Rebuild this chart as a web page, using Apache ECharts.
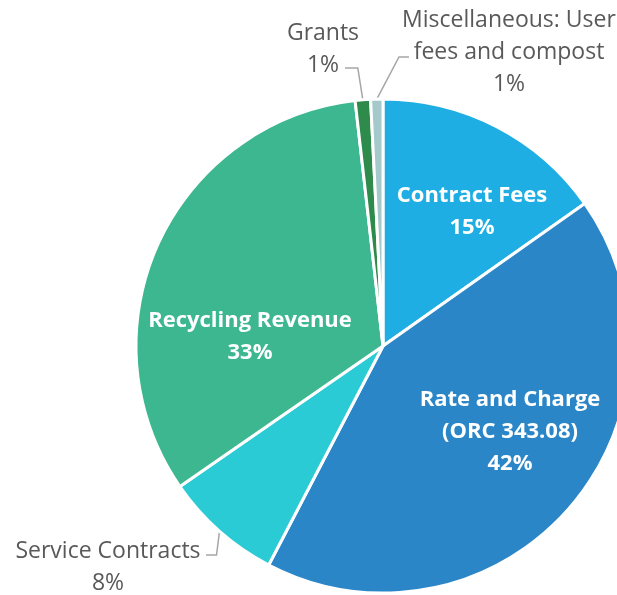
<!DOCTYPE html>
<html>
<head>
<meta charset="utf-8">
<style>
  * { margin: 0; padding: 0; }
  html, body { background: #fff; }
  #chart { width: 617px; height: 595px; }
</style>
</head>
<body>
<div id="chart"></div>
<script src="https://cdn.jsdelivr.net/npm/echarts@6/dist/echarts.min.js"></script>
<script>
// slices, clockwise from 12 o'clock
var names = [
  'Contract Fees',
  'Rate and Charge\n(ORC 343.08)',
  'Service Contracts',
  'Recycling Revenue',
  'Grants',
  'Miscellaneous: User\nfees and compost'
];
var values = [15.2, 42.4, 7.7, 32.8, 1.0, 0.8];
var colors = ['#1EAEE4', '#2B86C8', '#2BCBD5', '#3DB78F', '#2E8B4B', '#A3C9CB'];
var outside = [false, false, true, false, true, true];

// where each label sits (centre of the text block)
var labelPos = [
  [472, 212],
  [510, 432],
  [108, 567],
  [250, 337],
  [323, 49],
  [509, 52]
];

var chart = echarts.init(document.getElementById('chart'), null, { renderer: 'canvas' });

var data = names.map(function (n, i) {
  var item = {
    name: n,
    value: values[i],
    itemStyle: { color: colors[i] }
  };
  if (outside[i]) {
    item.label = {
      position: 'outside',
      color: '#595959',
      fontWeight: 'normal',
      fontSize: 23,
      lineHeight: 32
    };
    item.labelLine = { show: true };
  }
  return item;
});

// elbow leader lines: start on the slice edge, bend, then run to the text
function leader(p, pos) {
  var pts = p.labelLinePoints;
  if (!pts || !pts.length) return undefined;
  var s = pts[0];
  var i = p.dataIndex;
  if (i === 4) { // Grants: up, then left to the "1%"
    var y = pos[1] + 19;
    return [s, [s[0] - 5, y], [pos[0] + 22, y]];
  }
  if (i === 5) { // Misc: up-right, then to "fees"
    var y2 = pos[1] + 5;
    return [s, [pos[0] - 110, y2], [pos[0] - 100, y2]];
  }
  if (i === 2) { // Service Contracts: down, then left
    var y3 = pos[1] - 12;
    return [s, [s[0] - 3, y3], [pos[0] + 98, y3]];
  }
  return pts;
}

var option = {
  animation: false,
  backgroundColor: '#fff',
  series: [{
    type: 'pie',
    center: [383, 346],
    radius: [0, 247],
    startAngle: 90,
    clockwise: true,
    avoidLabelOverlap: false,
    itemStyle: { borderColor: '#fff', borderWidth: 3 },
    label: {
      show: true,
      position: 'inside',
      fontFamily: '"Open Sans", Lato, sans-serif',
      fontWeight: 'bold',
      fontSize: 22,
      lineHeight: 32,
      color: '#fff',
      align: 'center',
      formatter: function (p) {
        return p.name + '\n' + Math.round(p.percent) + '%';
      }
    },
    labelLine: {
      show: false,
      length: 10,
      length2: 10,
      lineStyle: { color: '#A6A6A6', width: 1.5 }
    },
    labelLayout: function (p) {
      var pos = labelPos[p.dataIndex];
      var out = { x: pos[0], y: pos[1], align: 'center', verticalAlign: 'middle' };
      if (outside[p.dataIndex]) {
        var pts = leader(p, pos);
        if (pts) out.labelLinePoints = pts;
      }
      return out;
    },
    data: data
  }]
};

chart.setOption(option);
window.addEventListener('resize', chart.resize);
</script>
</body>
</html>
